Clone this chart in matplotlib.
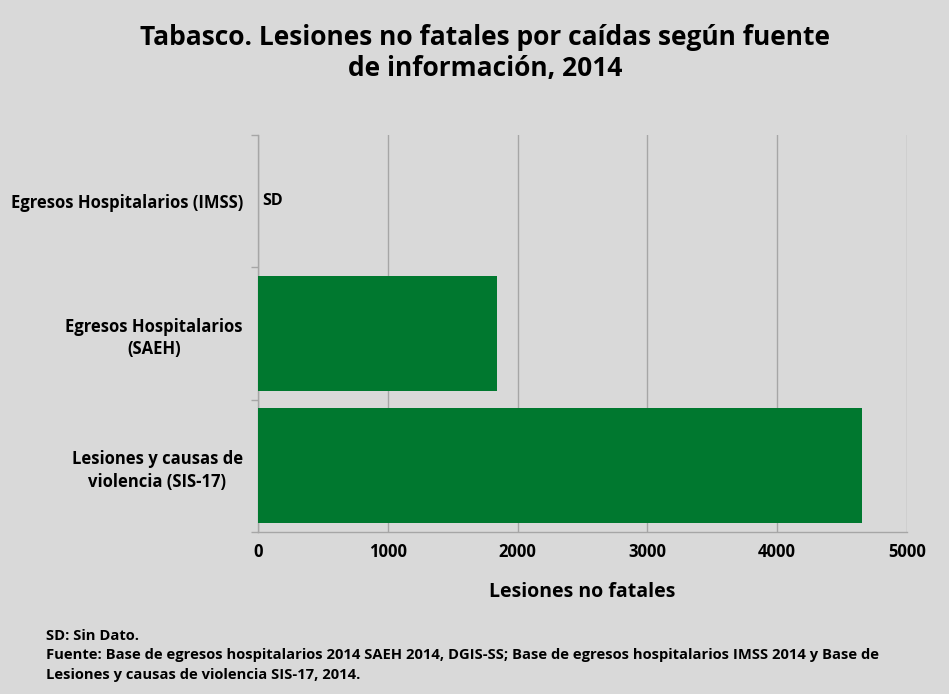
import numpy as np
import matplotlib.pyplot as plt

# ------------- data -------------
categorias = ["Lesiones y causas de\nviolencia (SIS-17)",
              "Egresos Hospitalarios\n(SAEH)",
              "Egresos Hospitalarios (IMSS)"]
valores = [4655, 1843, np.nan]          # IMSS: sin dato
etiquetas = ["", "", "SD"]
xticks = [0, 1000, 2000, 3000, 4000, 5000]

titulo = "Tabasco. Lesiones no fatales por caídas según fuente\nde información, 2014"
xlabel = "Lesiones no fatales"
nota = ("SD: Sin Dato.\n"
        "Fuente: Base de egresos hospitalarios 2014 SAEH 2014, DGIS-SS; Base de egresos hospitalarios IMSS 2014 y Base de\n"
        "Lesiones y causas de violencia SIS-17, 2014.")

# ------------- style -------------
bg = "#d9d9d9"
verde = "#00782f"
gris = "#a6a6a6"
plt.rcParams["font.family"] = ["Open Sans", "DejaVu Sans"]

fig = plt.figure(figsize=(9.49, 6.94), dpi=100, facecolor=bg)
ax = fig.add_axes([0.2719, 0.2334, 0.6839, 0.572], facecolor=bg)

y = np.arange(len(categorias))
vals = np.nan_to_num(valores)
ax.barh(y, vals, height=0.87, color=verde, zorder=3)

for yi, lab in zip(y, etiquetas):
    if lab:
        ax.text(30, yi, lab, va="center", ha="left", fontsize=11.5, fontweight="bold", zorder=4)

ax.set_xlim(0, 5000)
ax.set_ylim(-0.5, len(categorias) - 0.5)
ax.set_xticks(xticks)
ax.set_xticklabels([str(t) for t in xticks], fontsize=12, fontweight="bold")
ax.set_yticks(y)
ax.set_yticklabels(categorias, fontsize=12, fontweight="bold", ha="right",
                   multialignment="center", linespacing=1.35)
ax.tick_params(axis="y", length=0, pad=11)
ax.tick_params(axis="x", length=0, pad=8)

# band boundary ticks on y axis and small ticks on x axis
ax.set_yticks(np.arange(-0.5, len(categorias), 1), minor=True)
ax.tick_params(axis="y", which="minor", length=5, color=gris, width=1)
ax.set_xticks(xticks, minor=True)
ax.tick_params(axis="x", which="minor", length=5, color=gris, width=1)

ax.xaxis.grid(True, color=gris, linewidth=1, zorder=0)
for s in ["top", "right"]:
    ax.spines[s].set_visible(False)
for s in ["left", "bottom"]:
    ax.spines[s].set_color(gris)
    ax.spines[s].set_linewidth(1)

ax.set_xlabel(xlabel, fontsize=14, fontweight="bold", labelpad=15)

fig.text(0.511, 0.965, titulo, ha="center", va="top", fontsize=19, fontweight="bold",
         linespacing=1.18)
fig.text(0.048, 0.094, nota, ha="left", va="top", fontsize=10.6, fontweight="bold",
         linespacing=1.5)

fig.savefig("out.png", dpi=100, facecolor=bg)
